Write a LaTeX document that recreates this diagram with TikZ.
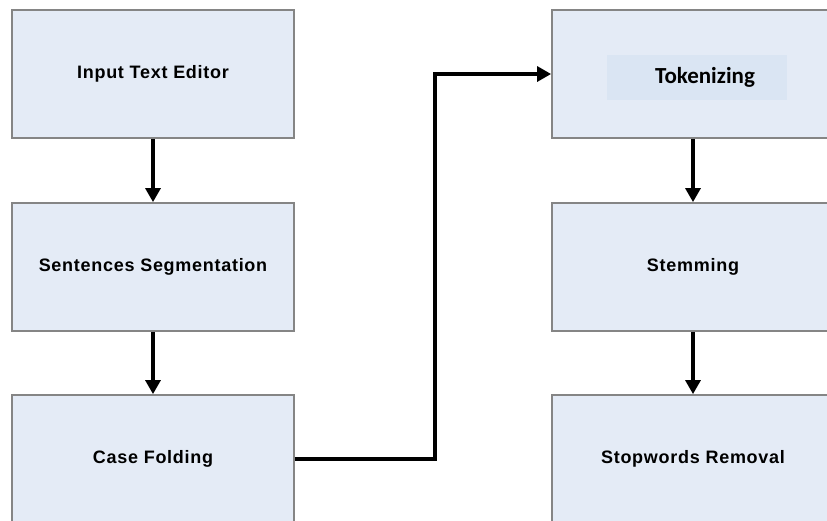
\documentclass[tikz,border=0pt]{standalone}
\usepackage{fontspec}
\setmainfont{Liberation Sans}
\newfontfamily\stagefont[LetterSpace=4.0]{Liberation Sans}
\newfontfamily\calfont{Carlito}
\usetikzlibrary{arrows.meta}
\definecolor{boxfill}{HTML}{E4EBF6}
\definecolor{boxline}{HTML}{858585}
\definecolor{tagfill}{HTML}{DAE5F3}

\begin{document}
\begin{tikzpicture}[x=1pt,y=-1pt,
    stage/.style={draw=boxline,line width=1.8pt,fill=boxfill,minimum width=282pt,
      minimum height=128pt,inner sep=0pt,font=\stagefont\fontsize{18}{21}\selectfont\bfseries},
    flow/.style={line width=3.2pt,-{Triangle[length=14pt,width=15pt]}}]
  \clip (0,0) rectangle (827,520);
  \fill[white] (0,0) rectangle (827,520);
  % left column
  \node[stage] (input) at (153,74) {Input Text Editor};
  \node[stage] (segment) at (153,267) {Sentences Segmentation};
  \node[stage] (fold) at (153,459) {Case Folding};
  % right column
  \node[stage] (token) at (693,74) {};
  \node[fill=tagfill,minimum width=180pt,minimum height=45pt] (tokrect) at (697,77) {};
  \node[font=\calfont\fontsize{23}{27}\selectfont\bfseries] (toktext) at (705,77) {Tokenizing};
  \node[stage] (stem) at (693,267) {Stemming};
  \node[stage] (stop) at (693,459) {Stopwords Removal};
  % connectors
  \draw[flow] (input) -- (segment);
  \draw[flow] (segment) -- (fold);
  \coordinate (bend) at (435,459);
  \draw[flow] (fold.east) -- (bend) |- (token.west);
  \draw[flow] (token) -- (stem);
  \draw[flow] (stem) -- (stop);
\end{tikzpicture}
\end{document}
